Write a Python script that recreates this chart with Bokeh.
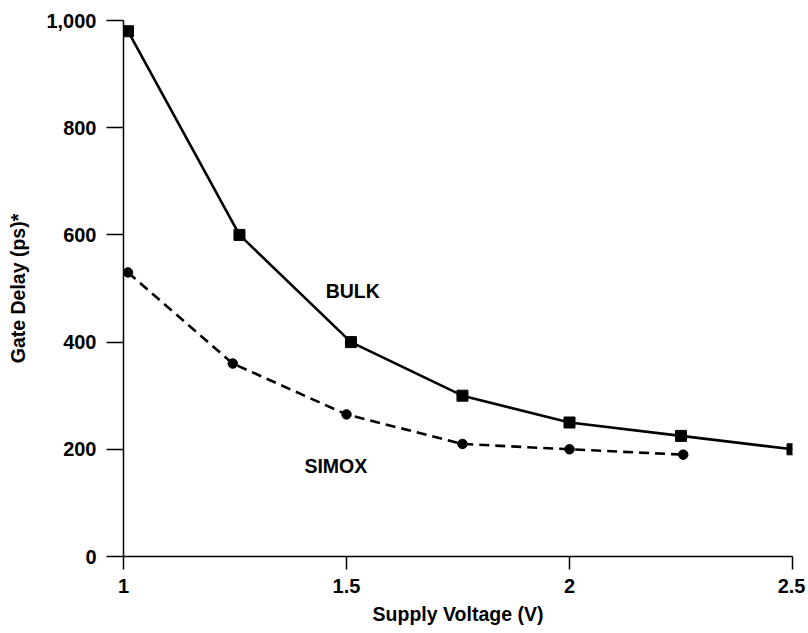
from bokeh.plotting import figure
from bokeh.models import Range1d, FixedTicker, ColumnDataSource
from bokeh.embed import file_html
from bokeh.resources import INLINE
from bokeh.core.properties import value

# Data
bulk_v = [1.01, 1.26, 1.51, 1.76, 2.0, 2.25, 2.5]
bulk_delay = [980, 600, 400, 300, 250, 225, 200]
simox_v = [1.01, 1.245, 1.5, 1.76, 2.0, 2.255]
simox_delay = [530, 360, 265, 210, 200, 190]

x_ticks = [1, 1.5, 2, 2.5]
x_tick_labels = ["1", "1.5", "2", "2.5"]
y_ticks = [0, 200, 400, 600, 800, 1000]
y_tick_labels = ["0", "200", "400", "600", "800", "1,000"]

series_labels = ["BULK", "SIMOX"]
label_x = [1.514, 1.476]
label_y = [496, 168]

FONT = "Liberation Sans"

p = figure(frame_width=669, frame_height=536,
           x_range=Range1d(1, 2.5), y_range=Range1d(0, 1000),
           output_backend="svg", toolbar_location=None,
           min_border_left=123, min_border_top=20, min_border_right=13,
           min_border_bottom=60)
p.outline_line_color = None
p.grid.visible = False
p.background_fill_color = "white"
p.border_fill_color = "white"

p.xaxis.ticker = FixedTicker(ticks=x_ticks)
p.xaxis.major_label_overrides = {t: l for t, l in zip(x_ticks, x_tick_labels)}
p.yaxis.ticker = FixedTicker(ticks=y_ticks)
p.yaxis.major_label_overrides = {t: l for t, l in zip(y_ticks, y_tick_labels)}

for ax in (p.xaxis, p.yaxis):
    ax.axis_line_width = 1.5
    ax.axis_line_color = "black"
    ax.major_tick_line_width = 1.5
    ax.major_tick_line_color = "black"
    ax.major_tick_in = 0
    ax.minor_tick_line_color = None
    ax.major_label_text_font = FONT
    ax.major_label_text_font_style = "bold"
    ax.major_label_text_font_size = "20px"
    ax.major_label_text_color = "black"
    ax.axis_label_text_font = FONT
    ax.axis_label_text_font_style = "bold"
    ax.axis_label_text_font_size = "19.5px"
    ax.axis_label_text_color = "black"

p.xaxis.major_tick_out = 13
p.yaxis.major_tick_out = 17
p.xaxis.major_label_standoff = 9
p.yaxis.major_label_standoff = 10
p.xaxis.axis_label = "Supply Voltage (V)"
p.yaxis.axis_label = "Gate Delay (ps)*"
p.xaxis.axis_label_standoff = 7
p.yaxis.axis_label_standoff = 14

bulk = ColumnDataSource(dict(x=bulk_v, y=bulk_delay))
simox = ColumnDataSource(dict(x=simox_v, y=simox_delay))

p.line("x", "y", source=bulk, line_color="black", line_width=2.6)
p.scatter("x", "y", source=bulk, marker="square", size=11,
          fill_color="black", line_color="black")
p.line("x", "y", source=simox, line_color="black", line_width=2.6,
       line_dash="10 6")
p.scatter("x", "y", source=simox, marker="circle", size=9.5,
          fill_color="black", line_color="black")

p.text(x=label_x, y=label_y, text=series_labels,
       text_font=value(FONT), text_font_style="bold",
       text_font_size="19.5px", text_align="center", text_baseline="middle",
       text_color="black")

open("out.html", "w").write(file_html(p, INLINE))
